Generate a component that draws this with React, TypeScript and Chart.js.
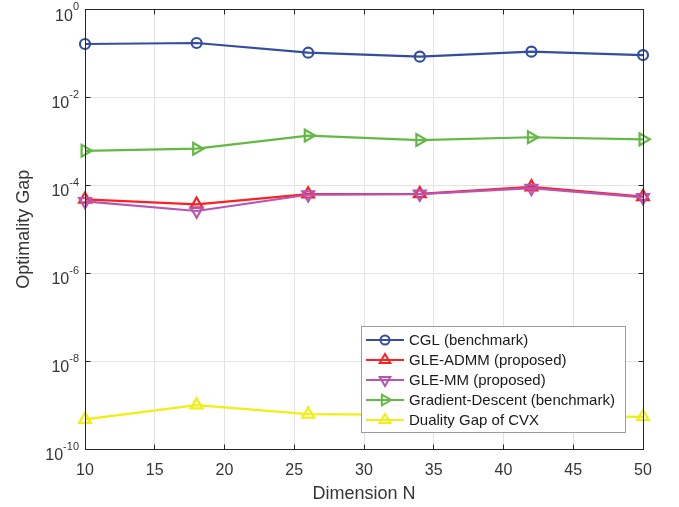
import React, { useEffect, useRef } from "react";
import { Chart, registerables } from "chart.js";

Chart.register(...registerables);

// ---- data ----
const dimensions = [10, 18, 26, 34, 42, 50];
const cglGap = [0.164, 0.173, 0.104, 0.0844, 0.11, 0.092];
const admmGap = [4.8e-5, 3.7e-5, 6.3e-5, 6.4e-5, 9.2e-5, 5.5e-5];
const mmGap = [4.3e-5, 2.6e-5, 6.1e-5, 6.3e-5, 8.6e-5, 5.3e-5];
const gdGap = [6.1e-4, 6.8e-4, 1.35e-3, 1.07e-3, 1.24e-3, 1.11e-3];
const cvxGap = [4.7e-10, 1.0e-9, 6.2e-10, 6.0e-10, 5.8e-10, 5.4e-10];
const xTicks = [10, 15, 20, 25, 30, 35, 40, 45, 50];
const yTickExponents = [0, -2, -4, -6, -8, -10];
const seriesNames = [
  "CGL (benchmark)",
  "GLE-ADMM (proposed)",
  "GLE-MM (proposed)",
  "Gradient-Descent (benchmark)",
  "Duality Gap of CVX",
];
const xTitle = "Dimension N";
const yTitle = "Optimality Gap";

// ---- styles ----
const FONT = "'Liberation Sans', Arial, Helvetica, sans-serif";
const AXIS = "#262626";
const TEXT = "#363636";
const GRID = "#e3e3e3";
const seriesStyles = [
  { color: "#334ea0", style: "circle", radius: 5, rotation: 0 },
  { color: "#ff1f1f", style: "triangle", radius: 6.8, rotation: 0 },
  { color: "#b854b4", style: "triangle", radius: 6.8, rotation: 180 },
  { color: "#63b944", style: "triangle", radius: 6.8, rotation: 90 },
  { color: "#f0ef10", style: "triangle", radius: 6.8, rotation: 0 },
];
const seriesValues = [cglGap, admmGap, mmGap, gdGap, cvxGap];

function drawMarker(ctx: CanvasRenderingContext2D, style: string, x: number, y: number, r: number, rotDeg: number) {
  ctx.beginPath();
  if (style === "circle") {
    ctx.arc(x, y, r, 0, Math.PI * 2);
  } else {
    let rad = (rotDeg * Math.PI) / 180;
    for (let k = 0; k < 3; k++) {
      const px = x + Math.sin(rad) * r;
      const py = y - Math.cos(rad) * r;
      if (k === 0) ctx.moveTo(px, py);
      else ctx.lineTo(px, py);
      rad += (2 * Math.PI) / 3;
    }
    ctx.closePath();
  }
  ctx.stroke();
}

const overlayPlugin = {
  id: "overlay",
  afterDraw(chart: any) {
    const { ctx, chartArea: a, scales } = chart;
    const xs = scales.x;
    const ys = scales.y;
    const L = Math.floor(a.left) + 0.5;
    const R = Math.floor(a.right) + 0.5;
    const T = Math.floor(a.top) + 0.5;
    const B = Math.floor(a.bottom) + 0.5;
    ctx.save();
    // box
    ctx.strokeStyle = AXIS;
    ctx.lineWidth = 1;
    ctx.strokeRect(L, T, R - L, B - T);
    // inward ticks
    const tl = 5;
    ctx.beginPath();
    xTicks.forEach((v) => {
      const px = Math.floor(xs.getPixelForValue(v)) + 0.5;
      ctx.moveTo(px, B);
      ctx.lineTo(px, B - tl);
      ctx.moveTo(px, T);
      ctx.lineTo(px, T + tl);
    });
    yTickExponents.forEach((e) => {
      const py = Math.floor(ys.getPixelForValue(Math.pow(10, e))) + 0.5;
      ctx.moveTo(L, py);
      ctx.lineTo(L + tl, py);
      ctx.moveTo(R, py);
      ctx.lineTo(R - tl, py);
    });
    ctx.stroke();

    // y tick labels 10^e
    ctx.fillStyle = TEXT;
    ctx.textBaseline = "alphabetic";
    ctx.textAlign = "right";
    yTickExponents.forEach((e) => {
      const py = ys.getPixelForValue(Math.pow(10, e));
      const ex = String(e);
      ctx.font = `11px ${FONT}`;
      const w = ctx.measureText(ex).width;
      const rx = a.left - 6;
      ctx.fillText(ex, rx, py + 0.5);
      ctx.font = `16px ${FONT}`;
      ctx.fillText("10", rx - w, py + 11);
    });

    // x tick labels
    ctx.textAlign = "center";
    ctx.font = `16px ${FONT}`;
    xTicks.forEach((v) => {
      ctx.fillText(String(v), xs.getPixelForValue(v), a.bottom + 26);
    });

    // titles
    ctx.font = `18px ${FONT}`;
    ctx.fillText(xTitle, (a.left + a.right) / 2, a.bottom + 50);
    ctx.save();
    ctx.translate(29, (a.top + a.bottom) / 2);
    ctx.rotate(-Math.PI / 2);
    ctx.fillText(yTitle, 0, 0);
    ctx.restore();

    // legend
    const bx = 361.5, by = 326.5, bw = 264, bh = 106;
    ctx.fillStyle = "#ffffff";
    ctx.fillRect(bx, by, bw, bh);
    ctx.strokeStyle = "#9c9c9c";
    ctx.lineWidth = 1;
    ctx.strokeRect(bx, by, bw, bh);
    ctx.font = `15px ${FONT}`;
    ctx.textAlign = "left";
    ctx.textBaseline = "middle";
    seriesNames.forEach((name, i) => {
      const st = seriesStyles[i];
      const ry = 340 + i * 20;
      ctx.strokeStyle = st.color;
      ctx.lineWidth = 2;
      ctx.beginPath();
      ctx.moveTo(366, ry);
      ctx.lineTo(404, ry);
      ctx.stroke();
      drawMarker(ctx, st.style, 385, ry, st.radius * 0.9, st.rotation);
      ctx.fillStyle = "#1a1a1a";
      ctx.fillText(name, 409, ry + 1);
    });
    ctx.restore();
  },
};

export default function App() {
  const canvasRef = useRef<HTMLCanvasElement | null>(null);

  useEffect(() => {
    const canvas = canvasRef.current;
    if (!canvas) return;
    const datasets = seriesNames.map((name, i) => {
      const st = seriesStyles[i];
      return {
        label: name,
        data: dimensions.map((x, j) => ({ x, y: seriesValues[i][j] })),
        showLine: true,
        borderColor: st.color,
        backgroundColor: "rgba(0,0,0,0)",
        borderWidth: 2.2,
        pointStyle: st.style,
        pointRadius: st.radius,
        pointRotation: st.rotation,
        pointBorderWidth: 2.2,
        pointBorderColor: st.color,
        pointBackgroundColor: "rgba(0,0,0,0)",
        clip: false as any,
        order: seriesNames.length - i,
      };
    });
    const chart = new Chart(canvas, {
      type: "scatter",
      data: { datasets: datasets as any },
      options: {
        animation: false,
        responsive: false,
        events: [],
        layout: { padding: { left: 45, right: 36, top: 9.5, bottom: 0 } },
        plugins: { legend: { display: false }, tooltip: { enabled: false } },
        scales: {
          x: {
            type: "linear",
            min: 10,
            max: 50,
            afterBuildTicks: (s: any) => {
              s.ticks = xTicks.map((v) => ({ value: v }));
            },
            afterFit: (s: any) => {
              s.height = 58;
            },
            ticks: { display: false },
            grid: { color: GRID, drawTicks: false, lineWidth: 1 },
            border: { display: false },
          },
          y: {
            type: "logarithmic",
            min: 1e-10,
            max: 1,
            afterBuildTicks: (s: any) => {
              s.ticks = yTickExponents.map((e) => ({ value: Math.pow(10, e) }));
            },
            afterFit: (s: any) => {
              s.width = 40;
            },
            ticks: { display: false },
            grid: { color: GRID, drawTicks: false, lineWidth: 1 },
            border: { display: false },
          },
        },
      },
      plugins: [overlayPlugin],
    });
    return () => chart.destroy();
  }, []);

  return (
    <div style={{ position: "fixed", left: 0, top: 0, width: 679, height: 507, background: "#ffffff" }}>
      <canvas ref={canvasRef} width={679} height={507} style={{ width: 679, height: 507, display: "block" }} />
    </div>
  );
}
